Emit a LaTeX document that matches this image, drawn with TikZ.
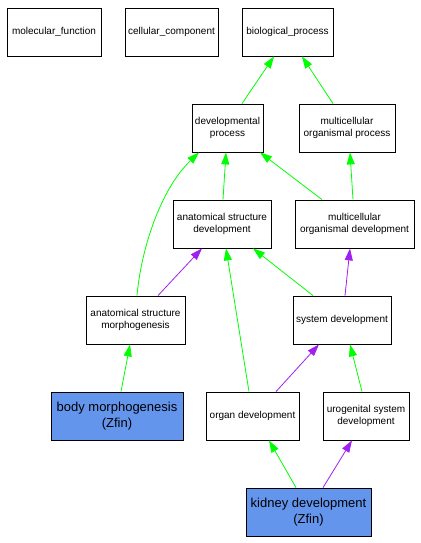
\documentclass[tikz,border=0pt]{standalone}
\usepackage{fontspec}
\setmainfont{Liberation Sans}
\usetikzlibrary{arrows.meta}
\definecolor{isa}{HTML}{00FF00}
\definecolor{partof}{HTML}{A020F0}
\definecolor{hl}{HTML}{6495ED}
\begin{document}
\begin{tikzpicture}[x=1pt,y=-1pt,
  box/.style={draw=black,line width=0.8pt,fill=white,inner sep=1pt,align=center,
    minimum height=48pt,font=\fontsize{10}{12}\selectfont},
  hbox/.style={box,fill=hl,font=\fontsize{13}{16}\selectfont},
  edge/.style={line width=0.8pt,-{Triangle[length=12pt,width=8pt]}},
  green/.style={edge,draw=isa},
  purple/.style={edge,draw=partof}]
\useasboundingbox (0,0) rectangle (420,543);
\node[box,minimum width=94pt] (mf) at (54,32) {molecular\_function};
\node[box,minimum width=93pt] (cc) at (171.5,32) {cellular\_component};
\node[box,minimum width=91pt] (bp) at (287.5,32) {biological\_process};
\node[box,minimum width=71pt] (dp) at (227.5,128) {developmental\\process};
\node[box,minimum width=96pt] (mop) at (347,128) {multicellular\\organismal process};
\node[box,minimum width=98pt] (asd) at (222,224) {anatomical structure\\development};
\node[box,minimum width=119pt] (mod) at (354.5,224) {multicellular\\organismal development};
\node[box,minimum width=99pt] (asm) at (135.5,320) {anatomical structure\\morphogenesis};
\node[box,minimum width=98pt] (sd) at (342,320) {system development};
\node[hbox,minimum width=132pt] (bm) at (117,416) {body morphogenesis\\(Zfin)};
\node[box,minimum width=93pt] (od) at (252.5,416) {organ development};
\node[box,minimum width=86pt] (ud) at (366,416) {urogenital system\\development};
\node[hbox,minimum width=125pt] (kd) at (308.5,512) {kidney development\\(Zfin)};
\draw[green] ([xshift=14.5pt]dp.north) -- ([xshift=-13.5pt]bp.south);
\draw[green] ([xshift=-14pt]mop.north) -- ([xshift=14.5pt]bp.south);
\draw[green] ([xshift=1pt]asd.north) -- ([xshift=-1.5pt]dp.south);
\draw[green] ([xshift=-32.5pt]mod.north) -- ([xshift=32.5pt]dp.south);
\draw[green] ([xshift=-1.5pt]mod.north) -- ([xshift=3pt]mop.south);
\draw[green] ([xshift=1.5pt]asm.north) .. controls (141,250) and (160,190) .. ([xshift=-28.5pt]dp.south);
\draw[purple] ([xshift=22.5pt]asm.north) -- ([xshift=-20pt]asd.south);
\draw[green] ([xshift=-3.5pt]od.north) -- ([xshift=4pt]asd.south);
\draw[green] ([xshift=-29pt]sd.north) -- ([xshift=31pt]asd.south);
\draw[purple] ([xshift=3pt]sd.north) -- ([xshift=-4.5pt]mod.south);
\draw[green] ([xshift=4pt]bm.north) -- ([xshift=-5.5pt]asm.south);
\draw[purple] ([xshift=23.5pt]od.north) -- ([xshift=-23pt]sd.south);
\draw[green] ([xshift=-4pt]ud.north) -- ([xshift=8pt]sd.south);
\draw[green] ([xshift=-12.5pt]kd.north) -- ([xshift=16.5pt]od.south);
\draw[purple] ([xshift=14.5pt]kd.north) -- ([xshift=-14pt]ud.south);
\end{tikzpicture}
\end{document}
